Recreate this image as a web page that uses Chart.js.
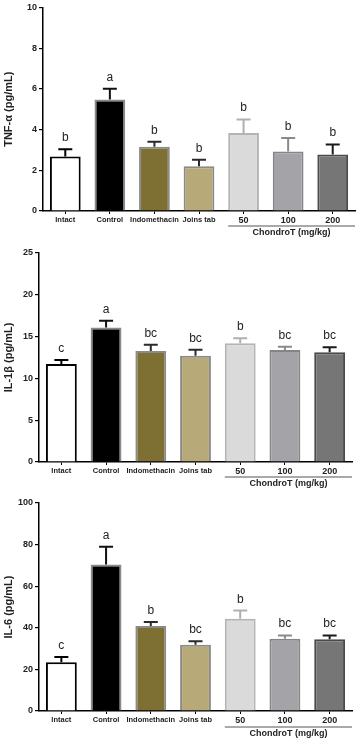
<!DOCTYPE html>
<html>
<head>
<meta charset="utf-8">
<script src="https://cdn.jsdelivr.net/npm/chart.js@4.4.1/dist/chart.umd.min.js"></script>
<style>
  html, body { margin: 0; padding: 0; background: #fff; }
  body { width: 358px; height: 740px; position: relative; overflow: hidden; }
  .panel { position: absolute; left: 0; width: 358px; }
</style>
</head>
<body>
<div class="panel" style="top:0;height:240px"><canvas id="tnf" width="358" height="240"></canvas></div>
<div class="panel" style="top:240px;height:250px"><canvas id="il1" width="358" height="250"></canvas></div>
<div class="panel" style="top:490px;height:250px"><canvas id="il6" width="358" height="250"></canvas></div>
<script>
// groups on the x axis
const groups = ['Intact', 'Control', 'Indomethacin', 'Joins tab', '50', '100', '200'];
const doseLabel = 'ChondroT (mg/kg)';

// TNF-α (pg/mL): mean and SEM
const tnfMean = [2.68, 5.48, 3.15, 2.20, 3.83, 2.92, 2.78];
const tnfSem = [0.35, 0.53, 0.25, 0.32, 0.67, 0.66, 0.49];
const tnfLetters = ['b', 'a', 'b', 'b', 'b', 'b', 'b'];

// IL-1β (pg/mL)
const il1Mean = [11.72, 16.10, 13.28, 12.72, 14.20, 13.40, 13.12];
const il1Sem = [0.48, 0.80, 0.76, 0.72, 0.60, 0.40, 0.60];
const il1Letters = ['c', 'a', 'bc', 'bc', 'b', 'bc', 'bc'];

// IL-6 (pg/mL)
const il6Mean = [23.4, 70.4, 40.9, 31.8, 44.3, 34.7, 34.5];
const il6Sem = [2.6, 8.6, 1.9, 1.7, 4.0, 1.6, 1.8];
const il6Letters = ['c', 'a', 'b', 'bc', 'b', 'bc', 'bc'];

const fillColors = ['#ffffff', '#000000', '#7e6f33', '#b7aa78', '#dadada', '#a4a4a8', '#767676'];
const edgeColors = ['#000000', '#8a8a8a', '#8a8a8a', '#8a8a8a', '#b4b4b4', '#858585', '#4a4a4a'];
const whiskerColors = ['#000000', '#111111', '#2a2a2a', '#2a2a2a', '#b0b0b0', '#8a8a8a', '#1a1a1a'];

const FONT = "'Liberation Sans', Arial, sans-serif";

// error bars, significance letters and the ChondroT bracket
const annotations = {
  id: 'annotations',
  afterDatasetsDraw(chart, args, opts) {
    const ctx = chart.ctx;
    const y = chart.scales.y;
    const meta = chart.getDatasetMeta(0);
    ctx.save();
    meta.data.forEach((bar, i) => {
      const top = y.getPixelForValue(opts.mean[i] + opts.sem[i]);
      const base = y.getPixelForValue(opts.mean[i]);
      ctx.strokeStyle = whiskerColors[i];
      ctx.lineWidth = 2;
      ctx.beginPath();
      ctx.moveTo(bar.x, base);
      ctx.lineTo(bar.x, top);
      ctx.moveTo(bar.x - 7, top);
      ctx.lineTo(bar.x + 7, top);
      ctx.stroke();

      ctx.fillStyle = '#222';
      ctx.font = '12px ' + FONT;
      ctx.textAlign = 'center';
      ctx.textBaseline = 'alphabetic';
      ctx.fillText(opts.letters[i], bar.x, top - 8);
    });

    // bracket line under the dose labels
    const first = meta.data[4];
    const left = first.x - first.width / 2;
    const right = chart.chartArea.right;
    const lineY = chart.chartArea.bottom + opts.bracketOffset;
    ctx.strokeStyle = '#8c8c8c';
    ctx.lineWidth = 1.5;
    ctx.beginPath();
    ctx.moveTo(left, lineY);
    ctx.lineTo(right, lineY);
    ctx.stroke();
    ctx.fillStyle = '#222';
    ctx.font = 'bold 9px ' + FONT;
    ctx.textBaseline = 'middle';
    ctx.fillText(doseLabel, (left + right) / 2, lineY + 7);
    ctx.restore();
  }
};

function makeChart(id, cfg) {
  new Chart(document.getElementById(id), {
    type: 'bar',
    data: {
      labels: groups,
      datasets: [{
        data: cfg.mean,
        backgroundColor: fillColors,
        borderColor: edgeColors,
        borderWidth: 2,
        borderSkipped: 'bottom',
        categoryPercentage: 1,
        barPercentage: 0.69
      }]
    },
    options: {
      responsive: false,
      animation: false,
      layout: { padding: { top: cfg.top, right: cfg.right, left: 0, bottom: 0 } },
      plugins: {
        legend: { display: false },
        tooltip: { enabled: false },
        annotations: {
          mean: cfg.mean, sem: cfg.sem, letters: cfg.letters,
          bracketOffset: cfg.bracketOffset
        }
      },
      scales: {
        x: {
          offset: true,
          grid: { display: true, drawOnChartArea: false, drawTicks: true, tickLength: 3, offset: false, color: '#000', lineWidth: 1 },
          border: { display: true, color: '#000', width: 1.5 },
          ticks: {
            color: '#222',
            padding: 1,
            maxRotation: 0,
            autoSkip: false,
            font: (c) => ({ family: FONT, weight: 'bold', size: c.index >= 4 ? 9 : 7.5 })
          },
          afterFit: (s) => { s.height = cfg.bottom; }
        },
        y: {
          min: 0,
          max: cfg.max,
          ticks: { stepSize: cfg.step, color: '#222', padding: 2, font: { family: FONT, weight: 'bold', size: 9 } },
          grid: { display: true, drawOnChartArea: false, drawTicks: true, tickLength: 4, color: '#000', lineWidth: 1.2 },
          border: { display: true, color: '#000', width: 1.5 },
          title: {
            display: true,
            text: cfg.title,
            color: '#222',
            padding: { top: 2, bottom: 0 },
            font: { family: FONT, weight: 'bold', size: 11 }
          },
          afterFit: (s) => { s.width = cfg.axisX; }
        }
      }
    },
    plugins: [annotations]
  });
}

makeChart('tnf', {
  mean: tnfMean, sem: tnfSem, letters: tnfLetters,
  title: 'TNF-α (pg/mL)', max: 10, step: 2,
  top: 6, right: 3, bottom: 29, axisX: 43, bracketOffset: 15
});
makeChart('il1', {
  mean: il1Mean, sem: il1Sem, letters: il1Letters,
  title: 'IL-1β (pg/mL)', max: 25, step: 5,
  top: 13, right: 6, bottom: 28, axisX: 39, bracketOffset: 15
});
makeChart('il6', {
  mean: il6Mean, sem: il6Sem, letters: il6Letters,
  title: 'IL-6 (pg/mL)', max: 100, step: 20,
  top: 13, right: 6, bottom: 29, axisX: 39, bracketOffset: 16
});
</script>
</body>
</html>
